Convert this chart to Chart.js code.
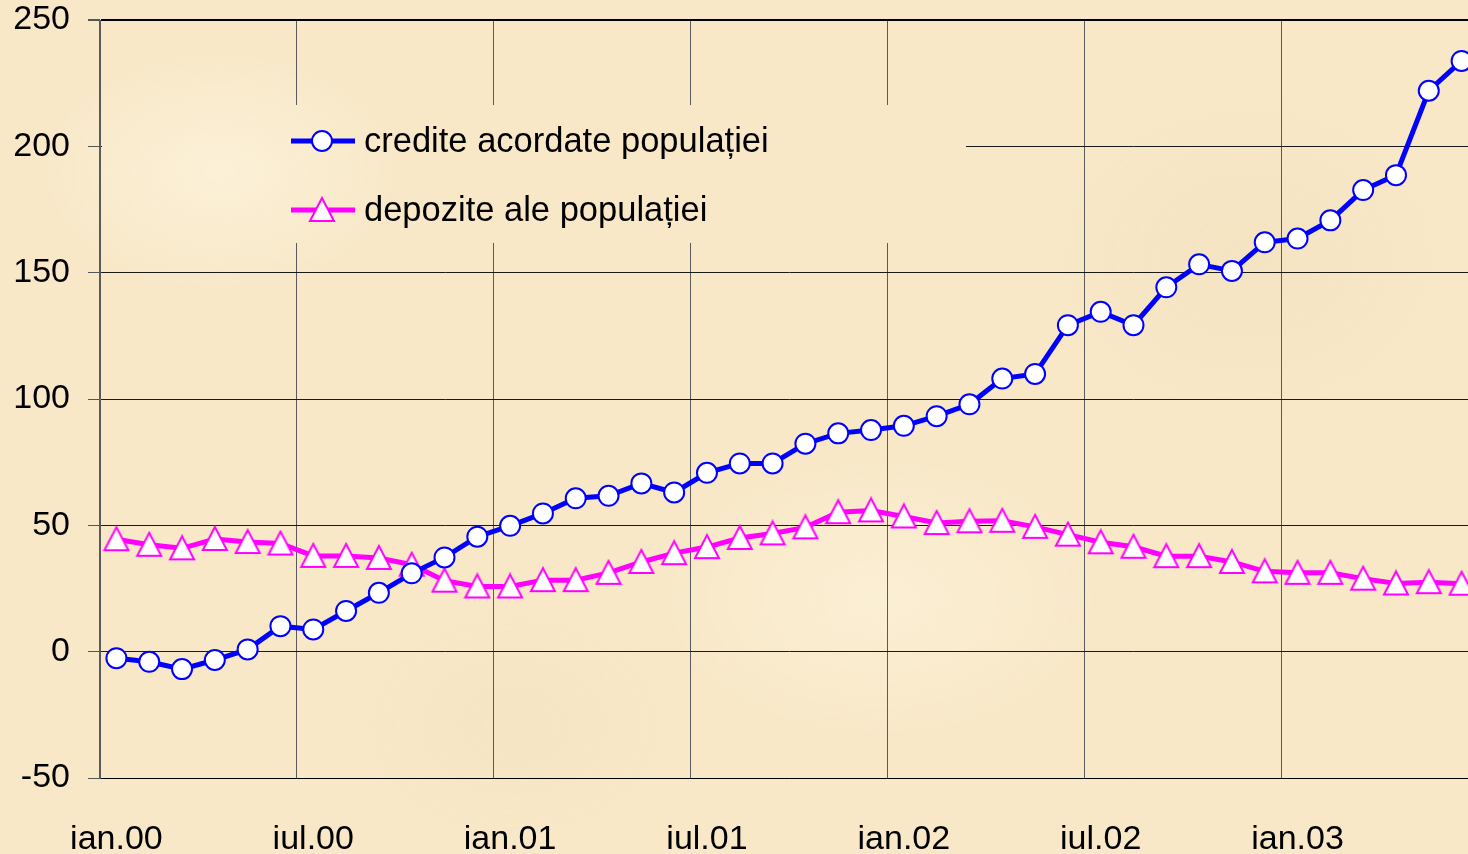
<!DOCTYPE html>
<html lang="ro">
<head>
<meta charset="utf-8">
<title>Credite și depozite ale populației</title>
<script src="https://cdn.jsdelivr.net/npm/chart.js@4/dist/chart.umd.min.js"></script>
<style>
  html, body {
    margin: 0;
    padding: 0;
    overflow: hidden;
    width: 1468px;
    height: 854px;
  }
  body {
    background-color: #f8e8c8;
    background-image:
      radial-gradient(ellipse 180px 120px at 15% 20%, rgba(255,248,228,0.55), transparent),
      radial-gradient(ellipse 220px 140px at 60% 70%, rgba(255,246,224,0.5), transparent),
      radial-gradient(ellipse 200px 160px at 85% 30%, rgba(240,222,186,0.45), transparent),
      radial-gradient(ellipse 160px 120px at 35% 85%, rgba(242,224,190,0.4), transparent);
  }
  #wrap {
    position: absolute;
    left: 0;
    top: 0;
    width: 1496px;
    height: 854px;
  }
</style>
</head>
<body>
<div id="wrap"><canvas id="chart" width="1496" height="854"></canvas></div>
<script>
// monthly data, ian.00 .. iun.03
const months = ['ian', 'feb', 'mar', 'apr', 'mai', 'iun', 'iul', 'aug', 'sep', 'oct', 'noi', 'dec'];
const years = ['00', '01', '02', '03'];
const labels = [];
years.forEach((y) => months.forEach((m) => labels.push(`${m}.${y}`)));
labels.length = 42;

const credite = [
  -2.6, -4, -6.9, -3.3, 0.9, 10.1, 8.8, 16.1, 23.3, 31,
  37.3, 45.5, 49.8, 54.7, 60.7, 61.7, 66.6, 63, 70.8, 74.5,
  74.5, 82.3, 86.4, 87.7, 89.4, 93.2, 97.9, 108.1, 109.9, 129.2,
  134.5, 129.2, 144.2, 153.3, 150.7, 162, 163.5, 170.7, 182.7, 188.6,
  222, 233.8,
];
const depozite = [
  44.5, 42.3, 40.9, 44.6, 43.4, 42.8, 37.9, 37.9, 37.1, 34.4,
  28.1, 25.8, 25.8, 28.3, 28.3, 31.2, 35.5, 39, 41.4, 45,
  46.8, 49.2, 55.2, 55.9, 53.5, 50.9, 51.6, 51.8, 49.4, 46.3,
  43.3, 41.5, 37.8, 37.8, 35.5, 31.8, 31.2, 31.2, 28.9, 27,
  27.5, 26.9,
];
const seriesNames = ['credite acordate populației', 'depozite ale populației'];
const yTicks = [-50, 0, 50, 100, 150, 200, 250];

const BLUE = '#0000ff';
const MAGENTA = '#ff00ff';
const FONT = '"Liberation Sans", Arial, sans-serif';

// triangle marker centred on its bounding box (like the spreadsheet markers)
function triangleMarker() {
  const c = document.createElement('canvas');
  c.width = 28;
  c.height = 28;
  const ctx = c.getContext('2d');
  ctx.beginPath();
  ctx.moveTo(14, 2);
  ctx.lineTo(26, 25);
  ctx.lineTo(2, 25);
  ctx.closePath();
  ctx.fillStyle = '#ffffff';
  ctx.fill();
  ctx.lineWidth = 2;
  ctx.strokeStyle = MAGENTA;
  ctx.stroke();
  return c;
}
const tri = triangleMarker();

// legend drawn inside the plot, on a cleared patch that hides the grid
const insideLegend = {
  id: 'insideLegend',
  beforeDatasetsDraw(chart) {
    const ctx = chart.ctx;
    ctx.save();
    ctx.clearRect(102, 105, 864, 138);
    const rows = [141, 210];
    chart.data.datasets.forEach((ds, i) => {
      const y = rows[i];
      ctx.beginPath();
      ctx.moveTo(291, y);
      ctx.lineTo(355, y);
      ctx.lineWidth = 5;
      ctx.strokeStyle = ds.borderColor;
      ctx.stroke();
      if (i === 0) {
        ctx.beginPath();
        ctx.arc(322, y, 10, 0, Math.PI * 2);
        ctx.fillStyle = '#ffffff';
        ctx.fill();
        ctx.lineWidth = 2;
        ctx.strokeStyle = BLUE;
        ctx.stroke();
      } else {
        ctx.drawImage(tri, 322 - 14, y - 14);
      }
      ctx.fillStyle = '#000000';
      ctx.font = `34.5px ${FONT}`;
      ctx.textBaseline = 'middle';
      ctx.textAlign = 'left';
      ctx.fillText(ds.label, 364, y + 1);
    });
    ctx.restore();
  },
};

new Chart(document.getElementById('chart'), {
  type: 'line',
  data: {
    labels,
    datasets: [
      {
        label: seriesNames[0],
        data: credite,
        borderColor: BLUE,
        borderWidth: 5,
        pointStyle: 'circle',
        pointRadius: 10,
        pointBorderWidth: 2,
        pointBackgroundColor: '#ffffff',
        pointBorderColor: BLUE,
        tension: 0,
      },
      {
        label: seriesNames[1],
        data: depozite,
        borderColor: MAGENTA,
        borderWidth: 5,
        pointStyle: tri,
        pointRadius: 13,
        tension: 0,
      },
    ],
  },
  options: {
    responsive: false,
    animation: false,
    devicePixelRatio: 1,
    layout: { padding: { top: 20, left: 0, right: 0, bottom: 0 } },
    plugins: {
      legend: { display: false },
      tooltip: { enabled: false },
    },
    scales: {
      x: {
        type: 'category',
        offset: true,
        grid: {
          offset: true,
          drawTicks: false,
          color: (c) => (c.index % 6 === 0 ? '#5a5a5a' : 'rgba(0,0,0,0)'),
          lineWidth: 1,
        },
        border: { color: '#000000', width: 1 },
        ticks: {
          autoSkip: false,
          maxRotation: 0,
          color: '#000000',
          font: { family: FONT, size: 34 },
          padding: 41,
          callback: (v, i) => (i % 6 === 0 ? labels[i] : ''),
        },
        afterFit: (s) => {
          s.height = 76;
          s.paddingLeft = 0;
          s.paddingRight = 0;
        },
      },
      y: {
        min: -50,
        max: 250,
        afterBuildTicks: (s) => { s.ticks = yTicks.map((v) => ({ value: v })); },
        grid: {
          color: (c) => (c.tick && c.tick.value === 250 ? '#000000' : '#1a1a1a'),
          lineWidth: (c) => (c.tick && c.tick.value === 250 ? 2 : 1),
          tickLength: 12,
          tickColor: '#555555',
        },
        border: { color: '#5a5a5a', width: 1 },
        ticks: {
          color: '#000000',
          font: { family: FONT, size: 34 },
          padding: 18,
        },
        afterFit: (s) => {
          s.width = 100;
          s.paddingTop = 0;
          s.paddingBottom = 0;
        },
      },
    },
  },
  plugins: [insideLegend],
});
</script>
</body>
</html>
